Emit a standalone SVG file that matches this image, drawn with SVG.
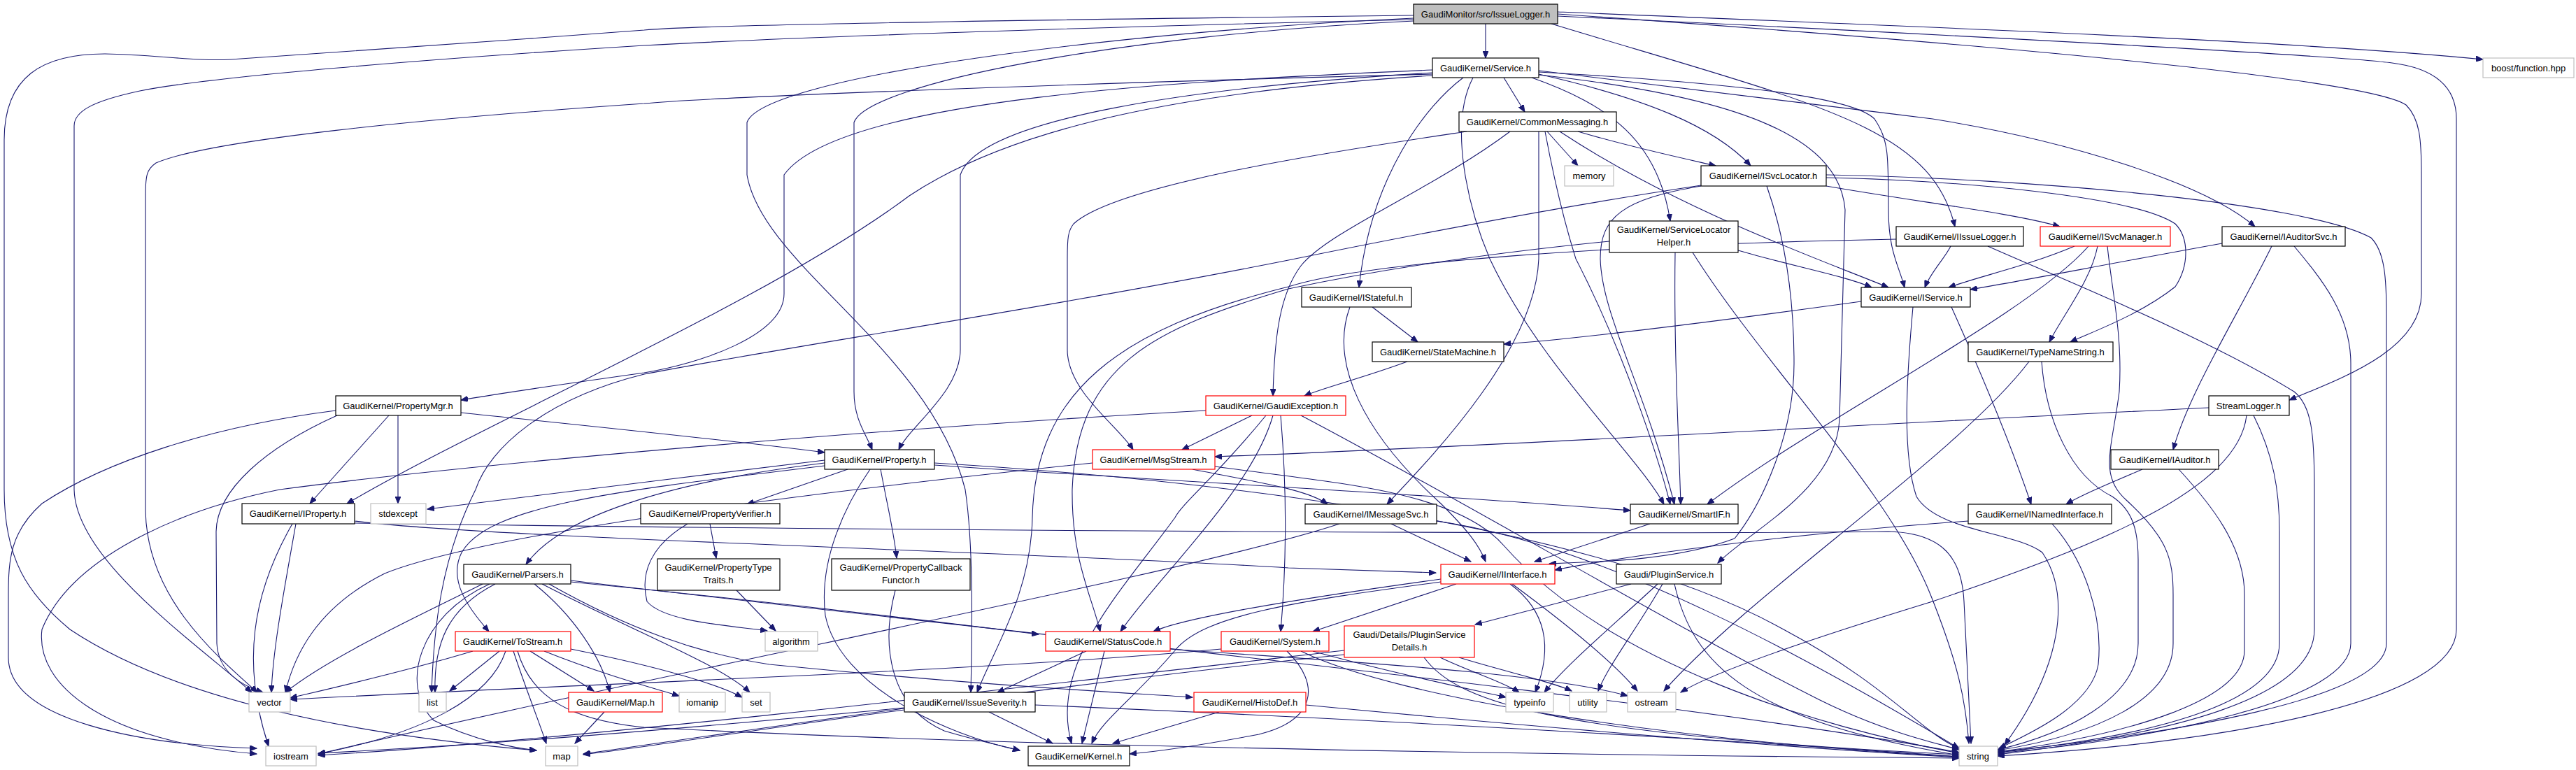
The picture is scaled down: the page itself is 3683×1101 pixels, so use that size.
<svg xmlns="http://www.w3.org/2000/svg" width="3683" height="1101" viewBox="0 0 3683 1101">
<style>
.e{fill:none;stroke:#191970;stroke-width:1.1;marker-end:url(#a)}
.nb rect{fill:#fff;stroke:#000;stroke-width:1.2}
.ng rect{fill:#fff;stroke:#bfbfbf;stroke-width:1.2}
.nr rect{fill:#fff;stroke:#ff0000;stroke-width:1.2}
.nt rect{fill:#bfbfbf;stroke:#000;stroke-width:1.2}
text{font-family:"Liberation Sans",Arial,Helvetica,sans-serif;font-size:13px;text-anchor:middle;fill:#000}
</style>
<defs>
<marker id="a" markerWidth="11" markerHeight="8" refX="10" refY="4" orient="auto" markerUnits="userSpaceOnUse"><path d="M0,0 L10,4 L0,8 z" fill="#191970" stroke="#191970"/></marker>
</defs>
<rect width="3683" height="1101" fill="#fff"/>
<g id="edges">
<path class="e" d="M2124,34 L2124,83"/>
<path class="e" d="M2218,34 C2600,150 2760,180 2795,324"/>
<path class="e" d="M2021,26 C1600,45 1090,110 1068,175 L1068,250 C1090,380 1330,500 1380,700 C1392,780 1390,900 1388,990"/>
<path class="e" d="M2021,30 C1600,50 1240,120 1221,175 L1221,560 C1221,600 1238,620 1247,643"/>
<path class="e" d="M2227,20 C2800,60 3380,110 3440,150 C3460,170 3462,200 3462,250 L3462,420 C3462,500 3350,540 3273,572"/>
<path class="e" d="M2227,17 C2800,40 3300,60 3550,85"/>
<path class="e" d="M2227,23 C2800,50 3350,80 3420,90 C3500,100 3512,140 3512,170 L3512,900 C3512,1000 3200,1060 2856,1081"/>
<path class="e" d="M2021,28 C1500,40 1100,55 921,65 C600,85 300,110 200,130 C130,145 106,160 106,180 L106,700 C108,800 280,920 360,990"/>
<path class="e" d="M2021,22 C1500,28 1000,35 921,43 C700,60 400,80 330,85 C280,88 220,78 150,77 C60,77 6,110 6,200 L6,700 C6,800 40,850 100,900 C250,1000 500,1050 767,1073"/>
<path class="e" d="M2150,111 L2180,160"/>
<path class="e" d="M2190,111 C2300,150 2370,200 2388,316"/>
<path class="e" d="M2200,106 C2350,140 2450,180 2503,237"/>
<path class="e" d="M2092,111 C2040,150 1960,250 1943,411"/>
<path class="e" d="M2106,111 C2070,180 2100,300 2130,370 C2200,520 2340,650 2379,721"/>
<path class="e" d="M2200,103 C2500,120 2650,140 2680,170 C2700,200 2700,220 2700,300 C2700,360 2715,380 2723,411"/>
<path class="e" d="M2200,101 C2450,130 2600,150 2763,170 C2950,200 3150,260 3224,324"/>
<path class="e" d="M2048,100 C1700,115 1200,140 1121,250 L1121,420 C1121,480 1000,520 921,533 C800,550 700,565 659,572"/>
<path class="e" d="M2048,104 C1700,125 1400,170 1373,250 L1373,500 C1373,560 1300,610 1285,643"/>
<path class="e" d="M2048,108 C1700,130 1450,180 1300,280 C1100,430 700,600 496,720"/>
<path class="e" d="M2048,106 C1500,120 1000,140 921,148 C600,170 300,200 223,233 C210,242 208,250 208,280 L208,730 C210,850 300,930 368,990"/>
<path class="e" d="M2200,107 C2500,140 2630,200 2638,300 L2630,600 C2625,700 2500,760 2456,805"/>
<path class="e" d="M2212,188 L2256,237"/>
<path class="e" d="M2256,188 C2330,210 2400,225 2453,237"/>
<path class="e" d="M2230,188 C2400,300 2600,370 2700,411"/>
<path class="e" d="M2200,188 L2200,370 C2195,500 2050,650 1983,721"/>
<path class="e" d="M2209,188 C2230,300 2250,360 2253,370 C2320,500 2370,650 2388,721"/>
<path class="e" d="M2097,188 C1950,210 1600,260 1535,320 C1527,330 1526,340 1526,370 L1526,500 C1526,560 1600,610 1620,643"/>
<path class="e" d="M2159,188 C2050,270 1900,330 1860,380 C1830,420 1822,480 1820,566"/>
<path class="e" d="M2301,345 C2100,365 1950,390 1842,413 C1650,470 1540,520 1533,700 C1532,800 1560,850 1573,903"/>
<path class="e" d="M2711,342 C2300,350 1950,375 1842,410 C1600,470 1480,560 1476,740 C1474,850 1420,930 1397,990"/>
<path class="e" d="M2611,266 C2750,290 2880,305 2945,324"/>
<path class="e" d="M2611,254 C2800,258 3050,280 3110,320 C3130,340 3130,380 3110,410 C3060,450 2990,475 2960,489"/>
<path class="e" d="M2611,250 C2900,255 3300,290 3390,340 C3410,360 3412,400 3412,450 L3412,920 C3412,1000 3100,1050 2856,1075"/>
<path class="e" d="M2432,265 C2200,300 1950,350 1842,372 C1500,440 1100,500 921,535 C780,570 700,640 680,700 C630,800 620,900 617,990"/>
<path class="e" d="M2432,266 C2320,285 2288,310 2288,370 C2290,450 2350,550 2394,721"/>
<path class="e" d="M2526,266 C2545,320 2565,400 2565,520 C2565,620 2520,720 2480,770 C2400,800 2300,803 2215,806"/>
<path class="e" d="M2485,358 C2560,380 2640,395 2676,411"/>
<path class="e" d="M2395,361 C2393,500 2400,620 2403,721"/>
<path class="e" d="M2420,361 C2520,520 2700,700 2760,850 C2800,950 2810,1000 2815,1063"/>
<path class="e" d="M2789,352 C2780,370 2760,390 2752,411"/>
<path class="e" d="M2842,352 C2950,400 3150,480 3280,560 C3305,580 3309,620 3309,700 L3309,900 C3309,1000 3100,1050 2856,1079"/>
<path class="e" d="M2966,352 C2900,380 2830,395 2786,411"/>
<path class="e" d="M2986,352 C2900,450 2600,600 2441,721"/>
<path class="e" d="M2999,352 C2990,400 2950,450 2930,489"/>
<path class="e" d="M3013,352 C3020,420 3035,480 3030,560 C3020,640 3000,680 3040,715 C3100,770 3107,800 3107,850 L3107,920 C3107,1000 3000,1050 2856,1073"/>
<path class="e" d="M3177,348 C3000,380 2900,400 2817,414"/>
<path class="e" d="M3248,352 C3200,450 3130,560 3107,643"/>
<path class="e" d="M3280,352 C3320,400 3361,450 3361,520 L3361,920 C3361,1000 3100,1055 2856,1077"/>
<path class="e" d="M3158,583 C2700,605 2100,640 1737,653"/>
<path class="e" d="M3212,594 C3200,700 3000,780 2763,860 C2600,910 2450,960 2403,990"/>
<path class="e" d="M3222,594 C3250,650 3259,700 3259,760 L3259,920 C3259,1000 3100,1050 2856,1076"/>
<path class="e" d="M3063,671 C3020,690 2980,705 2954,721"/>
<path class="e" d="M3115,671 C3160,720 3209,780 3209,850 L3209,930 C3209,1000 3050,1050 2856,1075"/>
<path class="e" d="M2814,745 C2600,760 2350,790 2223,815"/>
<path class="e" d="M2934,749 C2980,800 3007,880 3000,950 C2990,1010 2900,1050 2858,1070"/>
<path class="e" d="M2661,431 C2450,460 2250,485 2150,492"/>
<path class="e" d="M2790,439 C2840,550 2880,650 2904,721"/>
<path class="e" d="M2735,439 C2725,550 2720,650 2740,710 C2770,760 2880,760 2920,790 C2960,850 2950,950 2866,1065"/>
<path class="e" d="M2919,517 C2925,600 2960,680 3020,710 C3050,730 3057,760 3057,800 L3057,920 C3057,1000 2950,1050 2856,1072"/>
<path class="e" d="M2901,517 C2800,650 2500,850 2379,988"/>
<path class="e" d="M2012,517 C1950,540 1890,555 1865,566"/>
<path class="e" d="M1962,439 L2027,489"/>
<path class="e" d="M1930,439 C1900,520 1950,620 2060,720 C2100,760 2115,780 2124,803"/>
<path class="e" d="M1790,594 L1690,643"/>
<path class="e" d="M1820,594 C1790,700 1660,820 1602,903"/>
<path class="e" d="M1810,594 C1740,680 1690,720 1680,740 C1600,850 1500,950 1532,1063"/>
<path class="e" d="M1831,594 C1840,700 1840,800 1831,903"/>
<path class="e" d="M1860,594 C2100,720 2400,900 2600,1000 C2700,1050 2780,1065 2801,1072"/>
<path class="e" d="M1724,587 C1300,610 700,660 400,700 C250,730 100,800 60,900 C50,980 150,1060 367,1078"/>
<path class="e" d="M1705,671 C1800,690 1870,700 1898,721"/>
<path class="e" d="M1562,662 C1200,700 700,760 550,820 C450,870 420,940 408,990"/>
<path class="e" d="M1737,667 C1900,690 2080,700 2150,780 C2300,950 2600,1040 2801,1077"/>
<path class="e" d="M1989,749 L2103,803"/>
<path class="e" d="M1915,749 C1700,820 1000,950 455,1078"/>
<path class="e" d="M2054,745 C2300,780 2600,950 2801,1070"/>
<path class="e" d="M2359,749 L2194,803"/>
<path class="e" d="M2082,835 L1877,903"/>
<path class="e" d="M2060,828 C1900,850 1700,880 1649,903"/>
<path class="e" d="M2060,832 C1850,860 1720,880 1680,930 C1620,1000 1575,1030 1561,1063"/>
<path class="e" d="M2159,835 C2220,880 2215,940 2195,990"/>
<path class="e" d="M2162,835 C2250,900 2310,950 2341,988"/>
<path class="e" d="M2332,835 L2109,893"/>
<path class="e" d="M2370,835 C2300,900 2240,950 2208,990"/>
<path class="e" d="M2377,835 C2340,900 2300,950 2285,988"/>
<path class="e" d="M2394,835 C2420,950 2500,1030 2801,1080"/>
<path class="e" d="M2059,940 C2100,960 2150,975 2172,990"/>
<path class="e" d="M2086,940 C2150,960 2220,975 2247,988"/>
<path class="e" d="M1922,936 C1500,980 1100,1040 834,1078"/>
<path class="e" d="M1922,930 C1400,990 800,1060 455,1080"/>
<path class="e" d="M2036,940 C2080,1000 2200,1050 2801,1079"/>
<path class="e" d="M1840,931 C1890,980 1880,1030 1800,1050 C1720,1065 1650,1075 1615,1078"/>
<path class="e" d="M1746,928 C1400,960 900,975 415,1000"/>
<path class="e" d="M1877,931 C1980,960 2100,985 2153,997"/>
<path class="e" d="M1860,931 C2000,1000 2400,1060 2801,1082"/>
<path class="e" d="M1553,931 L1426,990"/>
<path class="e" d="M1579,931 L1547,1063"/>
<path class="e" d="M1673,928 C1900,945 2200,960 2327,995"/>
<path class="e" d="M1414,1018 L1505,1063"/>
<path class="e" d="M1293,1012 C1000,1040 700,1065 455,1077"/>
<path class="e" d="M1293,1015 C1100,1040 950,1065 834,1079"/>
<path class="e" d="M1480,1008 C2000,1030 2500,1060 2801,1082"/>
<path class="e" d="M1743,1018 L1591,1063"/>
<path class="e" d="M1867,1008 C2200,1040 2500,1065 2801,1083"/>
<path class="e" d="M1212,671 L1068,721"/>
<path class="e" d="M1259,671 C1268,720 1278,760 1282,798"/>
<path class="e" d="M1179,662 C950,690 800,740 752,807"/>
<path class="e" d="M1179,666 C900,700 700,720 660,790 C640,830 670,870 699,903"/>
<path class="e" d="M1179,658 C1000,680 750,710 611,728"/>
<path class="e" d="M1244,671 C1210,720 1170,800 1180,880 C1200,980 1350,1050 1458,1073"/>
<path class="e" d="M1336,662 C1800,690 2300,760 2550,900 C2700,980 2750,1050 2801,1070"/>
<path class="e" d="M1336,665 C1700,690 2100,710 2331,730"/>
<path class="e" d="M659,590 C850,610 1050,630 1179,647"/>
<path class="e" d="M556,594 L443,720"/>
<path class="e" d="M569,594 L569,720"/>
<path class="e" d="M480,587 C300,610 150,660 60,720 C15,760 12,800 12,850 L12,940 C12,1030 200,1065 367,1070"/>
<path class="e" d="M482,594 C380,640 310,700 309,760 L310,920 C312,960 345,980 376,990"/>
<path class="e" d="M423,749 C405,850 390,930 388,990"/>
<path class="e" d="M418,749 C360,850 345,950 384,1067"/>
<path class="e" d="M507,748 C1200,758 2300,765 2700,760 C2780,762 2805,800 2808,860 C2812,950 2816,1010 2818,1063"/>
<path class="e" d="M507,745 C700,770 1500,790 1842,812 C1950,815 2010,818 2053,819"/>
<path class="e" d="M690,835 C600,880 470,940 408,990"/>
<path class="e" d="M708,835 C640,870 620,920 622,990"/>
<path class="e" d="M700,835 C600,880 570,980 620,1030 C680,1060 740,1070 767,1073"/>
<path class="e" d="M764,835 C820,880 860,940 872,990"/>
<path class="e" d="M775,835 C900,900 1030,950 1072,990"/>
<path class="e" d="M816,832 C1100,860 1350,890 1485,907"/>
<path class="e" d="M785,835 C900,900 1000,935 1100,950 C1400,980 1600,990 1705,997"/>
<path class="e" d="M816,830 C1400,900 2400,1000 2801,1076"/>
<path class="e" d="M676,931 C580,960 470,985 415,998"/>
<path class="e" d="M714,931 L643,988"/>
<path class="e" d="M723,931 C700,1000 600,1050 455,1078"/>
<path class="e" d="M734,931 C750,980 770,1030 781,1063"/>
<path class="e" d="M758,931 L849,988"/>
<path class="e" d="M778,931 C850,960 920,980 971,995"/>
<path class="e" d="M816,928 C950,955 1030,980 1061,997"/>
<path class="e" d="M740,931 C760,1000 820,1030 921,1040 C1500,1070 2300,1080 2801,1084"/>
<path class="e" d="M864,1018 L822,1063"/>
<path class="e" d="M1015,749 L1024,798"/>
<path class="e" d="M983,749 C930,780 915,820 925,860 C950,890 1050,895 1097,902"/>
<path class="e" d="M1053,844 L1109,902"/>
<path class="e" d="M1280,844 C1260,920 1270,1010 1350,1045 C1400,1060 1440,1068 1458,1073"/>
</g>
<g id="n0" class="nt"><rect x="2021" y="6" width="206" height="28"/><text x="2124" y="24.5">GaudiMonitor/src/IssueLogger.h</text></g>
<g id="n1" class="nb"><rect x="2048" y="83" width="152" height="28"/><text x="2124" y="101.5">GaudiKernel/Service.h</text></g>
<g id="n2" class="nb"><rect x="2086" y="160" width="225" height="28"/><text x="2198" y="178.5">GaudiKernel/CommonMessaging.h</text></g>
<g id="n3" class="ng"><rect x="2237" y="237" width="70" height="29"/><text x="2272" y="256">memory</text></g>
<g id="n4" class="nb"><rect x="2432" y="237" width="179" height="29"/><text x="2521" y="256">GaudiKernel/ISvcLocator.h</text></g>
<g id="n5" class="nb"><rect x="2301" y="316" width="184" height="45"/><text x="2393" y="333">GaudiKernel/ServiceLocator</text><text x="2393" y="351">Helper.h</text></g>
<g id="n6" class="nb"><rect x="2711" y="324" width="182" height="28"/><text x="2802" y="342.5">GaudiKernel/IIssueLogger.h</text></g>
<g id="n7" class="nr"><rect x="2917" y="324" width="186" height="28"/><text x="3010" y="342.5">GaudiKernel/ISvcManager.h</text></g>
<g id="n8" class="nb"><rect x="3177" y="324" width="176" height="28"/><text x="3265" y="342.5">GaudiKernel/IAuditorSvc.h</text></g>
<g id="n9" class="ng"><rect x="3550" y="83" width="130" height="28"/><text x="3615" y="101.5">boost/function.hpp</text></g>
<g id="n10" class="nb"><rect x="480" y="566" width="179" height="28"/><text x="569" y="584.5">GaudiKernel/PropertyMgr.h</text></g>
<g id="n11" class="nb"><rect x="346" y="720" width="161" height="29"/><text x="426" y="739">GaudiKernel/IProperty.h</text></g>
<g id="n12" class="ng"><rect x="530" y="720" width="79" height="29"/><text x="569" y="739">stdexcept</text></g>
<g id="n13" class="nb"><rect x="916" y="720" width="199" height="29"/><text x="1015" y="739">GaudiKernel/PropertyVerifier.h</text></g>
<g id="n14" class="nb"><rect x="1179" y="643" width="157" height="28"/><text x="1257" y="661.5">GaudiKernel/Property.h</text></g>
<g id="n15" class="nr"><rect x="1562" y="643" width="175" height="28"/><text x="1649" y="661.5">GaudiKernel/MsgStream.h</text></g>
<g id="n16" class="nr"><rect x="1724" y="566" width="200" height="28"/><text x="1824" y="584.5">GaudiKernel/GaudiException.h</text></g>
<g id="n17" class="nb"><rect x="1861" y="411" width="157" height="28"/><text x="1939" y="429.5">GaudiKernel/IStateful.h</text></g>
<g id="n18" class="nb"><rect x="1962" y="489" width="188" height="28"/><text x="2056" y="507.5">GaudiKernel/StateMachine.h</text></g>
<g id="n19" class="nb"><rect x="2661" y="411" width="156" height="28"/><text x="2739" y="429.5">GaudiKernel/IService.h</text></g>
<g id="n20" class="nb"><rect x="1866" y="721" width="188" height="28"/><text x="1960" y="739.5">GaudiKernel/IMessageSvc.h</text></g>
<g id="n21" class="nb"><rect x="2331" y="721" width="154" height="28"/><text x="2408" y="739.5">GaudiKernel/SmartIF.h</text></g>
<g id="n22" class="nb"><rect x="2814" y="489" width="207" height="28"/><text x="2917" y="507.5">GaudiKernel/TypeNameString.h</text></g>
<g id="n23" class="nb"><rect x="3158" y="566" width="115" height="28"/><text x="3215" y="584.5">StreamLogger.h</text></g>
<g id="n24" class="nb"><rect x="3018" y="643" width="154" height="28"/><text x="3095" y="661.5">GaudiKernel/IAuditor.h</text></g>
<g id="n25" class="nb"><rect x="2814" y="721" width="205" height="28"/><text x="2916" y="739.5">GaudiKernel/INamedInterface.h</text></g>
<g id="n26" class="nb"><rect x="663" y="807" width="153" height="28"/><text x="740" y="825.5">GaudiKernel/Parsers.h</text></g>
<g id="n27" class="nr"><rect x="651" y="903" width="165" height="28"/><text x="733" y="921.5">GaudiKernel/ToStream.h</text></g>
<g id="n28" class="ng"><rect x="356" y="990" width="59" height="28"/><text x="385" y="1008.5">vector</text></g>
<g id="n29" class="ng"><rect x="599" y="990" width="39" height="28"/><text x="618" y="1008.5">list</text></g>
<g id="n30" class="nr"><rect x="813" y="990" width="134" height="28"/><text x="880" y="1008.5">GaudiKernel/Map.h</text></g>
<g id="n31" class="ng"><rect x="380" y="1067" width="72" height="28"/><text x="416" y="1085.5">iostream</text></g>
<g id="n32" class="ng"><rect x="780" y="1067" width="46" height="28"/><text x="803" y="1085.5">map</text></g>
<g id="n33" class="nb"><rect x="940" y="799" width="175" height="45"/><text x="1027" y="816">GaudiKernel/PropertyType</text><text x="1027" y="834">Traits.h</text></g>
<g id="n34" class="nb"><rect x="1189" y="799" width="198" height="45"/><text x="1288" y="816">GaudiKernel/PropertyCallback</text><text x="1288" y="834">Functor.h</text></g>
<g id="n35" class="ng"><rect x="1094" y="903" width="75" height="28"/><text x="1131" y="921.5">algorithm</text></g>
<g id="n36" class="nr"><rect x="1495" y="903" width="178" height="28"/><text x="1584" y="921.5">GaudiKernel/StatusCode.h</text></g>
<g id="n37" class="nr"><rect x="1746" y="903" width="154" height="28"/><text x="1823" y="921.5">GaudiKernel/System.h</text></g>
<g id="n38" class="ng"><rect x="971" y="990" width="66" height="28"/><text x="1004" y="1008.5">iomanip</text></g>
<g id="n39" class="ng"><rect x="1061" y="990" width="40" height="28"/><text x="1081" y="1008.5">set</text></g>
<g id="n40" class="nb"><rect x="1293" y="990" width="187" height="28"/><text x="1386" y="1008.5">GaudiKernel/IssueSeverity.h</text></g>
<g id="n41" class="nr"><rect x="1707" y="990" width="160" height="28"/><text x="1787" y="1008.5">GaudiKernel/HistoDef.h</text></g>
<g id="n42" class="nb"><rect x="1470" y="1067" width="145" height="28"/><text x="1542" y="1085.5">GaudiKernel/Kernel.h</text></g>
<g id="n43" class="nr"><rect x="2060" y="807" width="163" height="28"/><text x="2141" y="825.5">GaudiKernel/IInterface.h</text></g>
<g id="n44" class="nb"><rect x="2311" y="807" width="150" height="28"/><text x="2386" y="825.5">Gaudi/PluginService.h</text></g>
<g id="n45" class="nr"><rect x="1922" y="895" width="186" height="45"/><text x="2015" y="912">Gaudi/Details/PluginService</text><text x="2015" y="930">Details.h</text></g>
<g id="n46" class="ng"><rect x="2153" y="990" width="68" height="28"/><text x="2187" y="1008.5">typeinfo</text></g>
<g id="n47" class="ng"><rect x="2244" y="990" width="53" height="28"/><text x="2270" y="1008.5">utility</text></g>
<g id="n48" class="ng"><rect x="2327" y="990" width="69" height="28"/><text x="2361" y="1008.5">ostream</text></g>
<g id="n49" class="ng"><rect x="2801" y="1067" width="55" height="28"/><text x="2828" y="1085.5">string</text></g>
</svg>
